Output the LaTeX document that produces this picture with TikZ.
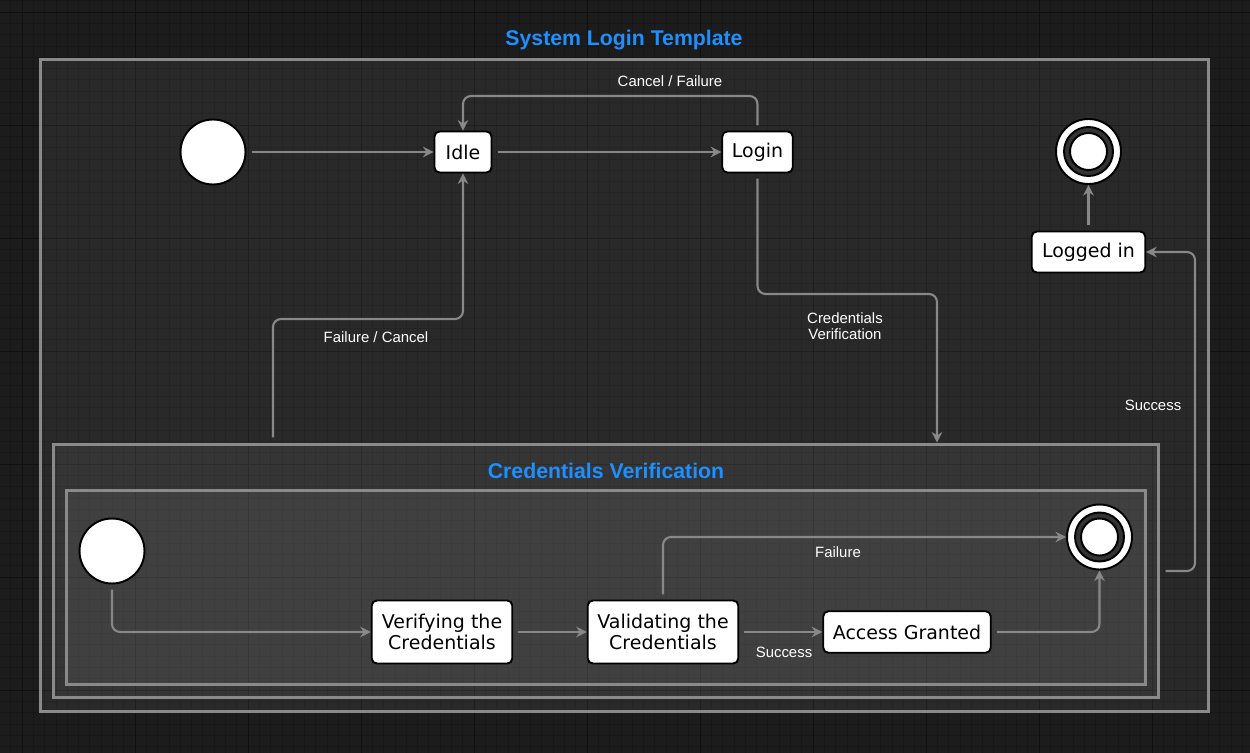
\documentclass[tikz,border=0pt]{standalone}
\usepackage{fontspec}
\setmainfont{Liberation Sans}
\newfontfamily\statefont{DejaVu Sans}
\usetikzlibrary{arrows.meta}
\definecolor{bgdark}{HTML}{1C1C1C}
\definecolor{minorgray}{HTML}{171717}
\definecolor{majorgray}{HTML}{101010}
\definecolor{framegray}{HTML}{8A8A8A}
\definecolor{edgegray}{HTML}{888888}
\definecolor{ringgray}{HTML}{333333}
\definecolor{titleblue}{HTML}{1E8FFF}
\begin{document}
\begin{tikzpicture}[x=0.02cm,y=-0.02cm,
  minorline/.style={draw=minorgray,line width=0.45pt},
  majorline/.style={draw=majorgray,line width=0.5pt},
  regionbox/.style={draw=framegray,line width=1.7pt,fill=white,fill opacity=0.06,draw opacity=1,inner sep=0pt},
  heading/.style={text=titleblue,font=\bfseries\fontsize{12.1}{14}\selectfont},
  statebox/.style={draw=black,fill=white,line width=1.1pt,rounded corners=0.1cm,inner sep=0pt,align=center,font=\statefont\fontsize{10.8}{12.3}\selectfont},
  startdot/.style={circle,draw=black,fill=white,line width=1.1pt,minimum size=1.3cm,inner sep=0pt},
  enddot/.style={startdot,path picture={
    \draw[black,fill=ringgray,line width=1.1pt] (path picture bounding box.center) circle (0.49cm);
    \draw[black,fill=white,line width=1.1pt] (path picture bounding box.center) circle (0.37cm);}},
  flow/.style={draw=edgegray,line width=1.2pt,rounded corners=0.16cm,shorten <=3pt,-{Stealth[length=6pt,width=6pt]}},
  lbl/.style={text=white,font=\fontsize{8.5}{9.4}\selectfont,align=center}]
\useasboundingbox (0,0) rectangle (1250,753);
\fill[bgdark] (0,0) rectangle (1250,753);
\foreach \k in {-1,...,108} \draw[minorline] ({22+11.3*\k},0) -- ({22+11.3*\k},753);
\foreach \k in {-1,...,65} \draw[minorline] (0,{12+11.3*\k}) -- (1250,{12+11.3*\k});
\foreach \k in {0,...,10} \draw[majorline] ({22+113*\k},0) -- ({22+113*\k},753);
\foreach \k in {0,...,6} \draw[majorline] (0,{12+113*\k}) -- (1250,{12+113*\k});

\node[regionbox,minimum width=23.38cm,minimum height=13.06cm] (sysbox) at (624.5,385.5) {};
\node[heading] (systitle) at (624,40) {System Login Template};
\node[regionbox,minimum width=22.12cm,minimum height=5.08cm] (cv) at (606,571) {};
\node[heading] (cvtitle) at (606,471) {Credentials Verification};
\node[regionbox,minimum width=21.6cm,minimum height=3.9cm] (cvinner) at (606,587.5) {};

\node[startdot] (start) at (213,152) {};
\node[statebox,minimum width=1.14cm,minimum height=0.82cm] (idle) at (463,152) {Idle};
\node[statebox,minimum width=1.41cm,minimum height=0.82cm] (login) at (757.5,152) {Login};
\node[enddot] (stop) at (1088.5,151.5) {};
\node[statebox,minimum width=2.27cm,minimum height=0.82cm] (loggedin) at (1088.5,252) {Logged in};
\node[startdot] (cvstart) at (112,551) {};
\node[statebox,minimum width=2.81cm,minimum height=1.26cm] (verifying) at (442,632) {Verifying the\\Credentials};
\node[statebox,minimum width=3.01cm,minimum height=1.26cm] (validating) at (663,632) {Validating the\\Credentials};
\node[statebox,minimum width=3.35cm,minimum height=0.83cm] (granted) at (907,632) {Access Granted};
\node[enddot] (cvstop) at (1099.5,537) {};

\draw[flow] (start) -- (idle);
\draw[flow] (idle) -- (login);
\draw[flow] (login.north) |- (610,96) -| (idle.north);
\draw[flow] (login.south) |- (847,294) -| (cv.north -| 937,0);
\draw[flow] (cv.north -| 273,0) |- (370,319) -| (idle.south);
\draw[flow] (cv.east) -| (1195,400) |- (loggedin.east);
\draw[flow] (loggedin) -- (stop);
\draw[flow] (cvstart.south) |- (verifying.west);
\draw[flow] (verifying) -- (validating);
\draw[flow] (validating) -- (granted);
\draw[flow] (validating.north) |- (cvstop.west);
\draw[flow] (granted.east) -| (cvstop.south);

\node[lbl] (lblcancel) at (670,81) {Cancel / Failure};
\node[lbl] (lblverify) at (845,326) {Credentials\\Verification};
\node[lbl] (lblfailcancel) at (376,337.5) {Failure / Cancel};
\node[lbl] (lblsuccess) at (1153,405) {Success};
\node[lbl] (lblgranted) at (784,652.5) {Success};
\node[lbl] (lblfail) at (838,552) {Failure};
\end{tikzpicture}
\end{document}
